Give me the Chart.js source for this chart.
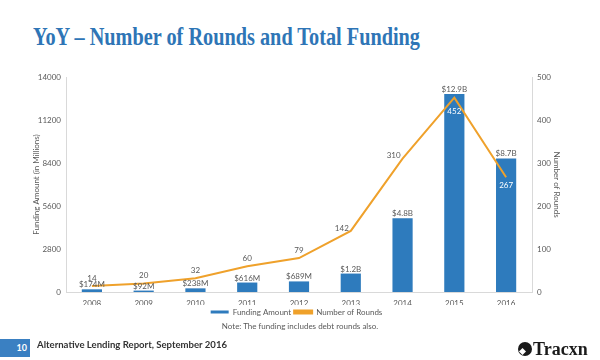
<!DOCTYPE html>
<html><head><meta charset="utf-8">
<script src="https://cdn.jsdelivr.net/npm/chart.js@4"></script>
<style>
body{margin:0;width:600px;height:360px;background:#fff;position:relative;overflow:hidden;font-family:Lato,"Liberation Sans",sans-serif;}
#title{position:absolute;left:33px;top:24px;font:bold 25px "Liberation Serif",serif;color:#2E75B6;white-space:nowrap;transform-origin:0 0;line-height:1;}
#wrap{position:absolute;left:0;top:60px;width:600px;height:266px;}
#note{position:absolute;left:0;width:600px;top:321px;text-align:center;font-size:8px;color:#595959;}
#pg{position:absolute;left:0;top:339px;width:30px;height:18px;background:#3A80C2;color:#fff;font:bold 9px Lato,sans-serif;line-height:18px;text-align:right;box-sizing:border-box;padding-right:3px;}
#foot{position:absolute;left:37px;top:339px;line-height:18px;font:bold 9.6px Lato,sans-serif;color:#333;white-space:nowrap;}
#logo{position:absolute;left:518px;top:339px;height:20px;font:bold 18px "Liberation Serif",serif;color:#1a1a1a;line-height:20px;white-space:nowrap;}
#logo i{display:inline-block;width:14px;height:14px;background:#1a1a1a;border-radius:50%;vertical-align:-1px;margin-right:1px;position:relative;overflow:hidden;}
#logo i:after{content:"";position:absolute;left:2px;bottom:2px;width:5px;height:5px;background:#fff;transform:rotate(45deg);}
</style></head>
<body>
<div id="title">YoY – Number of Rounds and Total Funding</div>
<div id="wrap"><canvas id="c"></canvas></div>
<div id="note">Note: The funding includes debt rounds also.</div>
<div id="pg">10</div>
<div id="foot">Alternative Lending Report, September 2016</div>
<div id="logo"><i></i>Tracxn</div>
<script>
const years = ["2008","2009","2010","2011","2012","2013","2014","2015","2016"];
const fundingMillions = [174, 92, 238, 616, 689, 1200, 4800, 12900, 8700];
const rounds = [14, 20, 32, 60, 79, 142, 310, 452, 267];
const leftTicks = [0, 2800, 5600, 8400, 11200, 14000];
const rightTicks = [0, 100, 200, 300, 400, 500];

// scale title and footer text to reference widths
const fit = (id, w) => { const e = document.getElementById(id); e.style.transformOrigin = '0 0'; e.style.transform = 'scaleX(' + (w / e.getBoundingClientRect().width) + ')'; };
fit('title', 387);
fit('foot', 190);

const gray = '#595959';
const fundLabel = v => v >= 1000 ? '$' + (v/1000).toFixed(1) + 'B' : '$' + v + 'M';
const roundPlace = ['above','above','above','above','above','left','left','below','below'];

const labelPlugin = {
  id: 'labels',
  afterDatasetsDraw(chart) {
    const ctx = chart.ctx;
    ctx.save();
    ctx.font = '8px Lato, sans-serif';
    const bm = chart.getDatasetMeta(0);
    bm.data.forEach((el, i) => {
      ctx.fillStyle = gray; ctx.textAlign = 'center'; ctx.textBaseline = 'bottom';
      ctx.fillText(fundLabel(fundingMillions[i]), el.x, el.y - 0.5);
    });
    const lm = chart.getDatasetMeta(1);
    lm.data.forEach((el, i) => {
      const p = roundPlace[i];
      ctx.textBaseline = 'middle';
      if (p === 'above') { ctx.fillStyle = gray; ctx.textAlign = 'center'; ctx.fillText(rounds[i], el.x, el.y - 8); }
      else if (p === 'left') { ctx.fillStyle = gray; ctx.textAlign = 'right'; ctx.fillText(rounds[i], el.x - 2, el.y - 3); }
      else { ctx.fillStyle = '#fff'; ctx.textAlign = 'center'; ctx.fillText(rounds[i], el.x, el.y + (i === 7 ? 14 : 8)); }
    });
    ctx.restore();
  }
};

const tickFont = { size: 8, family: 'Lato' };
new Chart(document.getElementById('c'), {
  data: {
    labels: years,
    datasets: [
      { type: 'bar', label: 'Funding Amount', data: fundingMillions, yAxisID: 'y',
        backgroundColor: '#2E7BBD', barPercentage: 0.39, categoryPercentage: 1, order: 2 },
      { type: 'line', label: 'Number of Rounds', data: rounds, yAxisID: 'y1',
        borderColor: '#EFA12B', backgroundColor: '#EFA12B', borderWidth: 2, pointRadius: 0,
        tension: 0, order: 1 }
    ]
  },
  options: {
    responsive: true, maintainAspectRatio: false, animation: false,
    layout: { padding: { left: 28, right: 35, top: 17, bottom: 0 } },
    plugins: {
      legend: { position: 'bottom',
        labels: { font: tickFont, color: gray, boxWidth: 18, boxHeight: 3, padding: 3,
          sort: (a, b) => a.datasetIndex - b.datasetIndex } },
      tooltip: { enabled: false }
    },
    scales: {
      x: { grid: { display: false, drawTicks: false }, border: { color: '#d9d9d9' },
        afterFit: s => { s.height = 13; },
        ticks: { color: gray, font: tickFont, padding: 7 } },
      y: { position: 'left', min: 0, max: 14000,
        afterBuildTicks: s => { s.ticks = leftTicks.map(v => ({ value: v })); },
        afterFit: s => { s.width = 38; },
        grid: { display: false, drawTicks: false }, border: { color: '#d9d9d9' },
        ticks: { color: gray, font: tickFont, padding: 5, callback: v => String(v) },
        title: { display: true, text: 'Funding Amount (in Millions)', color: gray, font: tickFont, padding: { top: 4, bottom: 0 } } },
      y1: { position: 'right', min: 0, max: 500,
        afterBuildTicks: s => { s.ticks = rightTicks.map(v => ({ value: v })); },
        afterFit: s => { s.width = 33; },
        grid: { display: false, drawTicks: false }, border: { color: '#d9d9d9' },
        ticks: { color: gray, font: tickFont, padding: 5, callback: v => String(v) },
        title: { display: true, text: 'Number of Rounds', color: gray, font: tickFont, padding: { top: 4, bottom: 0 } } }
    }
  },
  plugins: [labelPlugin]
});
</script>
</body></html>
